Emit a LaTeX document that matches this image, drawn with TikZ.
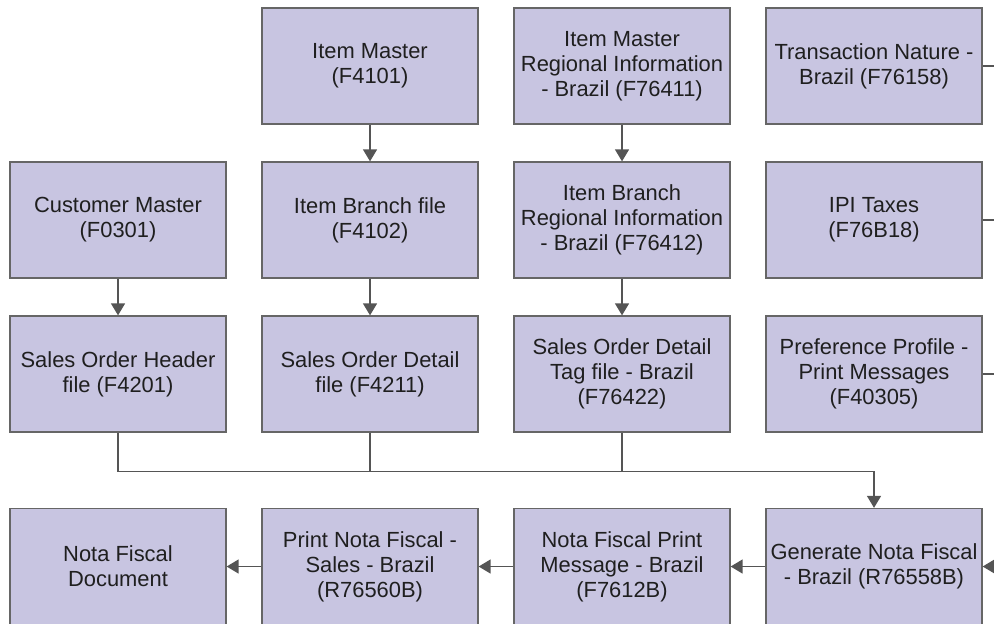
\documentclass[tikz,border=0pt]{standalone}
\usepackage{fontspec}
\setmainfont{Liberation Sans}
\usetikzlibrary{arrows.meta,positioning}
\definecolor{boxfill}{HTML}{C8C5E1}
\definecolor{boxline}{HTML}{666666}
\definecolor{flowgray}{HTML}{555555}

\begin{document}
\begin{tikzpicture}[x=0.5pt,y=-0.5pt,node distance=77pt and 126pt,on grid,
  table/.style={draw=boxline,fill=boxfill,line width=0.65pt,minimum width=108pt,
    minimum height=58pt,align=center,inner sep=2pt,text=black!88,
    font=\fontsize{10.95}{12.5}\selectfont},
  link/.style={draw=flowgray,line width=0.7pt},
  flow/.style={link,-{Triangle[length=6pt,width=7pt]}}]
  \clip (0,0) rectangle (994,623);
  % top rows: masters
  \node[table] (im) at (370,66) {Item Master\\(F4101)};
  \node[table] [right=of im] (imr) {Item Master\\Regional Information\\- Brazil (F76411)};
  \node[table] [right=of imr] (tn) {Transaction Nature -\\Brazil (F76158)};
  \node[table] [below=of im] (ib) {Item Branch file\\(F4102)};
  \node[table] [left=of ib] (cm) {Customer Master\\(F0301)};
  \node[table] [below=of imr] (ibr) {Item Branch\\Regional Information\\- Brazil (F76412)};
  \node[table] [below=of tn] (ipi) {IPI Taxes\\(F76B18)};
  % sales order files
  \node[table] [below=of cm] (soh) {Sales Order Header\\file (F4201)};
  \node[table] [below=of ib] (sod) {Sales Order Detail\\file (F4211)};
  \node[table] [below=of ibr] (sot) {Sales Order Detail\\Tag file - Brazil\\(F76422)};
  \node[table] [below=of ipi] (pp) {Preference Profile -\\Print Messages\\(F40305)};
  % bottom row
  \node[table] [below=96.25pt of pp] (gen) {Generate Nota Fiscal\\- Brazil (R76558B)};
  \node[table] [left=of gen] (nfp) {Nota Fiscal Print\\Message - Brazil\\(F7612B)};
  \node[table] [left=of nfp] (pnf) {Print Nota Fiscal -\\Sales - Brazil\\(R76560B)};
  \node[table] [left=of pnf] (doc) {Nota Fiscal\\Document};

  \coordinate (bus) at ([yshift=-19.5pt]soh.south);
  \coordinate (rail) at (1010,0);

  \draw[flow] (im) -- (ib);
  \draw[flow] (imr) -- (ibr);
  \draw[flow] (ibr) -- (sot);
  \draw[flow] (cm) -- (soh);
  \draw[flow] (ib) -- (sod);
  \draw[flow] (soh.south) -- (bus) -| (gen.north);
  \draw[link] (sod.south) -- (sod.south |- bus);
  \draw[link] (sot.south) -- (sot.south |- bus);
  \draw[link] (tn.east) -- (tn.east -| rail);
  \draw[link] (ipi.east) -- (ipi.east -| rail);
  \draw[link] (pp.east) -- (pp.east -| rail);
  \draw[flow] (gen.east -| rail) -- (gen.east);
  \draw[flow] (gen) -- (nfp);
  \draw[flow] (nfp) -- (pnf);
  \draw[flow] (pnf) -- (doc);
\end{tikzpicture}
\end{document}
